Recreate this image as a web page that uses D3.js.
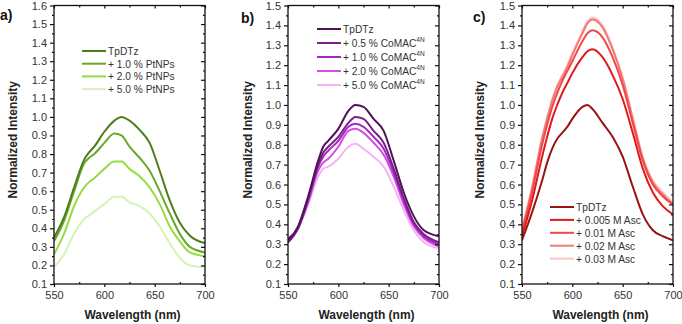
<!DOCTYPE html>
<html><head><meta charset="utf-8">
<script src="https://cdn.jsdelivr.net/npm/d3@7"></script>
<style>body{margin:0;background:#fff}svg{display:block}text{font-family:"Liberation Sans",Arial,sans-serif}</style>
</head><body><svg id="c" width="682" height="324"></svg>
<script>
// ---------- DATA ----------
const wlA = [550,560,570,580,585,590,600,610,617,625,635,645,655,665,675,685,700];
const aTpDTz = [0.35,0.46,0.62,0.77,0.81,0.84,0.92,0.98,1.00,0.98,0.93,0.86,0.71,0.55,0.43,0.36,0.32];
const aPt10  = [0.33,0.44,0.60,0.75,0.78,0.80,0.86,0.91,0.90,0.84,0.78,0.71,0.60,0.48,0.37,0.30,0.27];
const aPt20  = [0.26,0.37,0.52,0.62,0.65,0.67,0.72,0.76,0.76,0.72,0.68,0.62,0.53,0.41,0.33,0.27,0.25];
const aPt50  = [0.19,0.26,0.37,0.45,0.47,0.49,0.53,0.57,0.57,0.54,0.52,0.48,0.41,0.32,0.24,0.20,0.19];
const aLabels = ["TpDTz","+ 1.0 % PtNPs","+ 2.0 % PtNPs","+ 5.0 % PtNPs"];

const wlB = [550,560,570,580,585,590,600,610,617,625,635,645,655,665,675,685,700];
const bTpDTz = [0.32,0.39,0.54,0.72,0.79,0.82,0.88,0.97,1.00,0.99,0.93,0.87,0.72,0.56,0.44,0.37,0.34];
const bCo05  = [0.31,0.38,0.53,0.70,0.76,0.79,0.84,0.91,0.94,0.93,0.87,0.81,0.68,0.53,0.41,0.35,0.31];
const bCo10  = [0.31,0.38,0.52,0.69,0.74,0.77,0.82,0.89,0.905,0.89,0.84,0.78,0.66,0.52,0.40,0.34,0.30];
const bCo20  = [0.33,0.38,0.51,0.67,0.71,0.73,0.79,0.87,0.88,0.86,0.81,0.75,0.64,0.50,0.39,0.33,0.29];
const bCo50  = [0.33,0.38,0.50,0.64,0.68,0.69,0.73,0.79,0.805,0.78,0.74,0.69,0.59,0.47,0.37,0.31,0.28];
const bLabels = ["TpDTz","+ 0.5 % CoMAC","+ 1.0 % CoMAC","+ 2.0 % CoMAC","+ 5.0 % CoMAC"];
const bSup = ["","4N","4N","4N","4N"];

const wlC = [550,560,570,575,580,585,590,595,600,610,615,620,630,640,650,660,670,680,690,700];
const cTpDTz = [0.32,0.46,0.62,0.71,0.78,0.83,0.86,0.89,0.93,0.99,1.00,0.98,0.91,0.84,0.74,0.59,0.45,0.37,0.34,0.32];
const cAsc005= [0.34,0.52,0.74,0.84,0.93,1.00,1.06,1.11,1.16,1.24,1.27,1.28,1.24,1.15,1.03,0.86,0.68,0.56,0.49,0.45];
const cAsc01 = [0.36,0.56,0.80,0.90,0.99,1.06,1.12,1.17,1.22,1.32,1.36,1.375,1.34,1.24,1.10,0.91,0.72,0.60,0.54,0.50];
const cAsc02 = [0.37,0.58,0.83,0.93,1.02,1.09,1.14,1.19,1.25,1.36,1.41,1.43,1.39,1.28,1.13,0.93,0.73,0.61,0.55,0.50];
const cAsc03 = [0.38,0.59,0.84,0.94,1.03,1.10,1.15,1.20,1.26,1.37,1.42,1.44,1.40,1.29,1.14,0.94,0.74,0.62,0.56,0.51];
const cLabels = ["TpDTz","+ 0.005 M Asc","+ 0.01 M Asc","+ 0.02 M Asc","+ 0.03 M Asc"];

const xTicks = [550,600,650,700];

// ---------- PANELS ----------
const panels = [
  {tag:"a)", tagX:0, tagY:20, left:54, right:205, yMax:1.6, titleX:17,
   wl:wlA, series:[aTpDTz,aPt10,aPt20,aPt50], labels:aLabels, sup:["","","",""],
   colors:["#4e7d1e","#69a82a","#97dc44","#d6f2b6"],
   leg:{x:82, y:51, dy:12.7, len:24}},
  {tag:"b)", tagX:241, tagY:23, left:288, right:439, yMax:1.5, titleX:252,
   wl:wlB, series:[bTpDTz,bCo05,bCo10,bCo20,bCo50], labels:bLabels, sup:bSup,
   colors:["#4d1454","#7a2088","#a726c4","#d64ae6","#f1b5f6"],
   leg:{x:317, y:29, dy:14, len:24}},
  {tag:"c)", tagX:473, tagY:22, left:522, right:673, yMax:1.5, titleX:484,
   wl:wlC, series:[cTpDTz,cAsc005,cAsc01,cAsc02,cAsc03], labels:cLabels, sup:["","","","",""],
   colors:["#9a1414","#e0191c","#f04848","#f57878","#fbc6c6"],
   leg:{x:550, y:207, dy:12.9, len:24}}
];

const svg = d3.select("#c");
const plotTop = 5.5, plotBottom = 284;

panels.forEach(p => {
  const x = d3.scaleLinear().domain([550,700]).range([p.left,p.right]);
  const y = d3.scaleLinear().domain([0.1,p.yMax]).range([plotBottom,plotTop]);
  const g = svg.append("g");
  const yMajor = d3.range(1, Math.round(p.yMax*10)+1).map(v=>v/10);
  const yMinor = d3.range(1, Math.round(p.yMax*10)).map(v=>v/10+0.05);
  const xMinor = [575,625,675];

  const line = d3.line().x((d,i)=>x(p.wl[i])).y(d=>y(d)).curve(d3.curveMonotoneX);
  const cid = "clip"+p.tag[0];
  svg.append("clipPath").attr("id",cid).append("rect")
    .attr("x",p.left).attr("y",plotTop).attr("width",p.right-p.left).attr("height",plotBottom-plotTop);
  const order = p.series.map((s,i)=>i).reverse();
  order.forEach(i=>{
    g.append("path").attr("d",line(p.series[i])).attr("fill","none")
     .attr("stroke",p.colors[i]).attr("stroke-width",2).attr("clip-path",`url(#${cid})`);
  });

  const axL = d3.axisLeft(y).tickValues(yMajor).tickFormat(d3.format(".1f")).tickSize(4).tickPadding(3);
  g.append("g").attr("transform",`translate(${p.left},0)`).call(axL);
  const axLm = d3.axisLeft(y).tickValues(yMinor).tickFormat("").tickSize(2);
  g.append("g").attr("transform",`translate(${p.left},0)`).call(axLm);
  const axB = d3.axisBottom(x).tickValues(xTicks).tickFormat(d3.format("d")).tickSize(3).tickPadding(4);
  g.append("g").attr("transform",`translate(0,${plotBottom})`).call(axB);
  const axBm = d3.axisBottom(x).tickValues(xMinor).tickFormat("").tickSize(-2);
  g.append("g").attr("transform",`translate(0,${plotBottom})`).call(axBm);
  const axR = d3.axisRight(y).tickValues(yMajor).tickFormat("").tickSize(-4);
  g.append("g").attr("transform",`translate(${p.right},0)`).call(axR);
  const axRm = d3.axisRight(y).tickValues(yMinor).tickFormat("").tickSize(-2);
  g.append("g").attr("transform",`translate(${p.right},0)`).call(axRm);
  const axT = d3.axisTop(x).tickValues(xTicks).tickFormat("").tickSize(-3);
  g.append("g").attr("transform",`translate(0,${plotTop})`).call(axT);
  const axTm = d3.axisTop(x).tickValues(xMinor).tickFormat("").tickSize(-2);
  g.append("g").attr("transform",`translate(0,${plotTop})`).call(axTm);
  g.selectAll(".domain").remove();
  g.selectAll(".tick line").attr("stroke","#111").attr("stroke-width",1.2);
  g.selectAll(".tick text").attr("fill","#333").attr("font-size",11).attr("font-family","Liberation Sans, Arial, sans-serif");
  g.append("rect").attr("x",p.left).attr("y",plotTop).attr("width",p.right-p.left).attr("height",plotBottom-plotTop)
    .attr("fill","none").attr("stroke","#111").attr("stroke-width",1.3);

  g.append("text").attr("x",(p.left+p.right)/2+3).attr("y",319).attr("text-anchor","middle")
    .attr("font-size",12).attr("font-weight","bold").attr("fill","#222").text("Wavelength (nm)");
  g.append("text").attr("transform",`translate(${p.titleX},${(plotTop+plotBottom)/2-5}) rotate(-90)`)
    .attr("text-anchor","middle").attr("font-size",12).attr("font-weight","bold").attr("fill","#222")
    .text("Normalized Intensity");
  g.append("text").attr("x",p.tagX).attr("y",p.tagY).attr("font-size",14).attr("font-weight","bold")
    .attr("fill","#111").text(p.tag);

  p.labels.forEach((lab,i)=>{
    const yy = p.leg.y + i*p.leg.dy;
    g.append("line").attr("x1",p.leg.x).attr("x2",p.leg.x+p.leg.len).attr("y1",yy).attr("y2",yy)
      .attr("stroke",p.colors[i]).attr("stroke-width",2);
    const t = g.append("text").attr("x",p.leg.x+p.leg.len+2).attr("y",yy+4)
      .attr("font-size",10.2).attr("fill","#333").text(lab);
    if (p.sup[i]) t.append("tspan").attr("font-size",6.5).attr("dy",-5).text(p.sup[i]);
  });
});
</script></body></html>
